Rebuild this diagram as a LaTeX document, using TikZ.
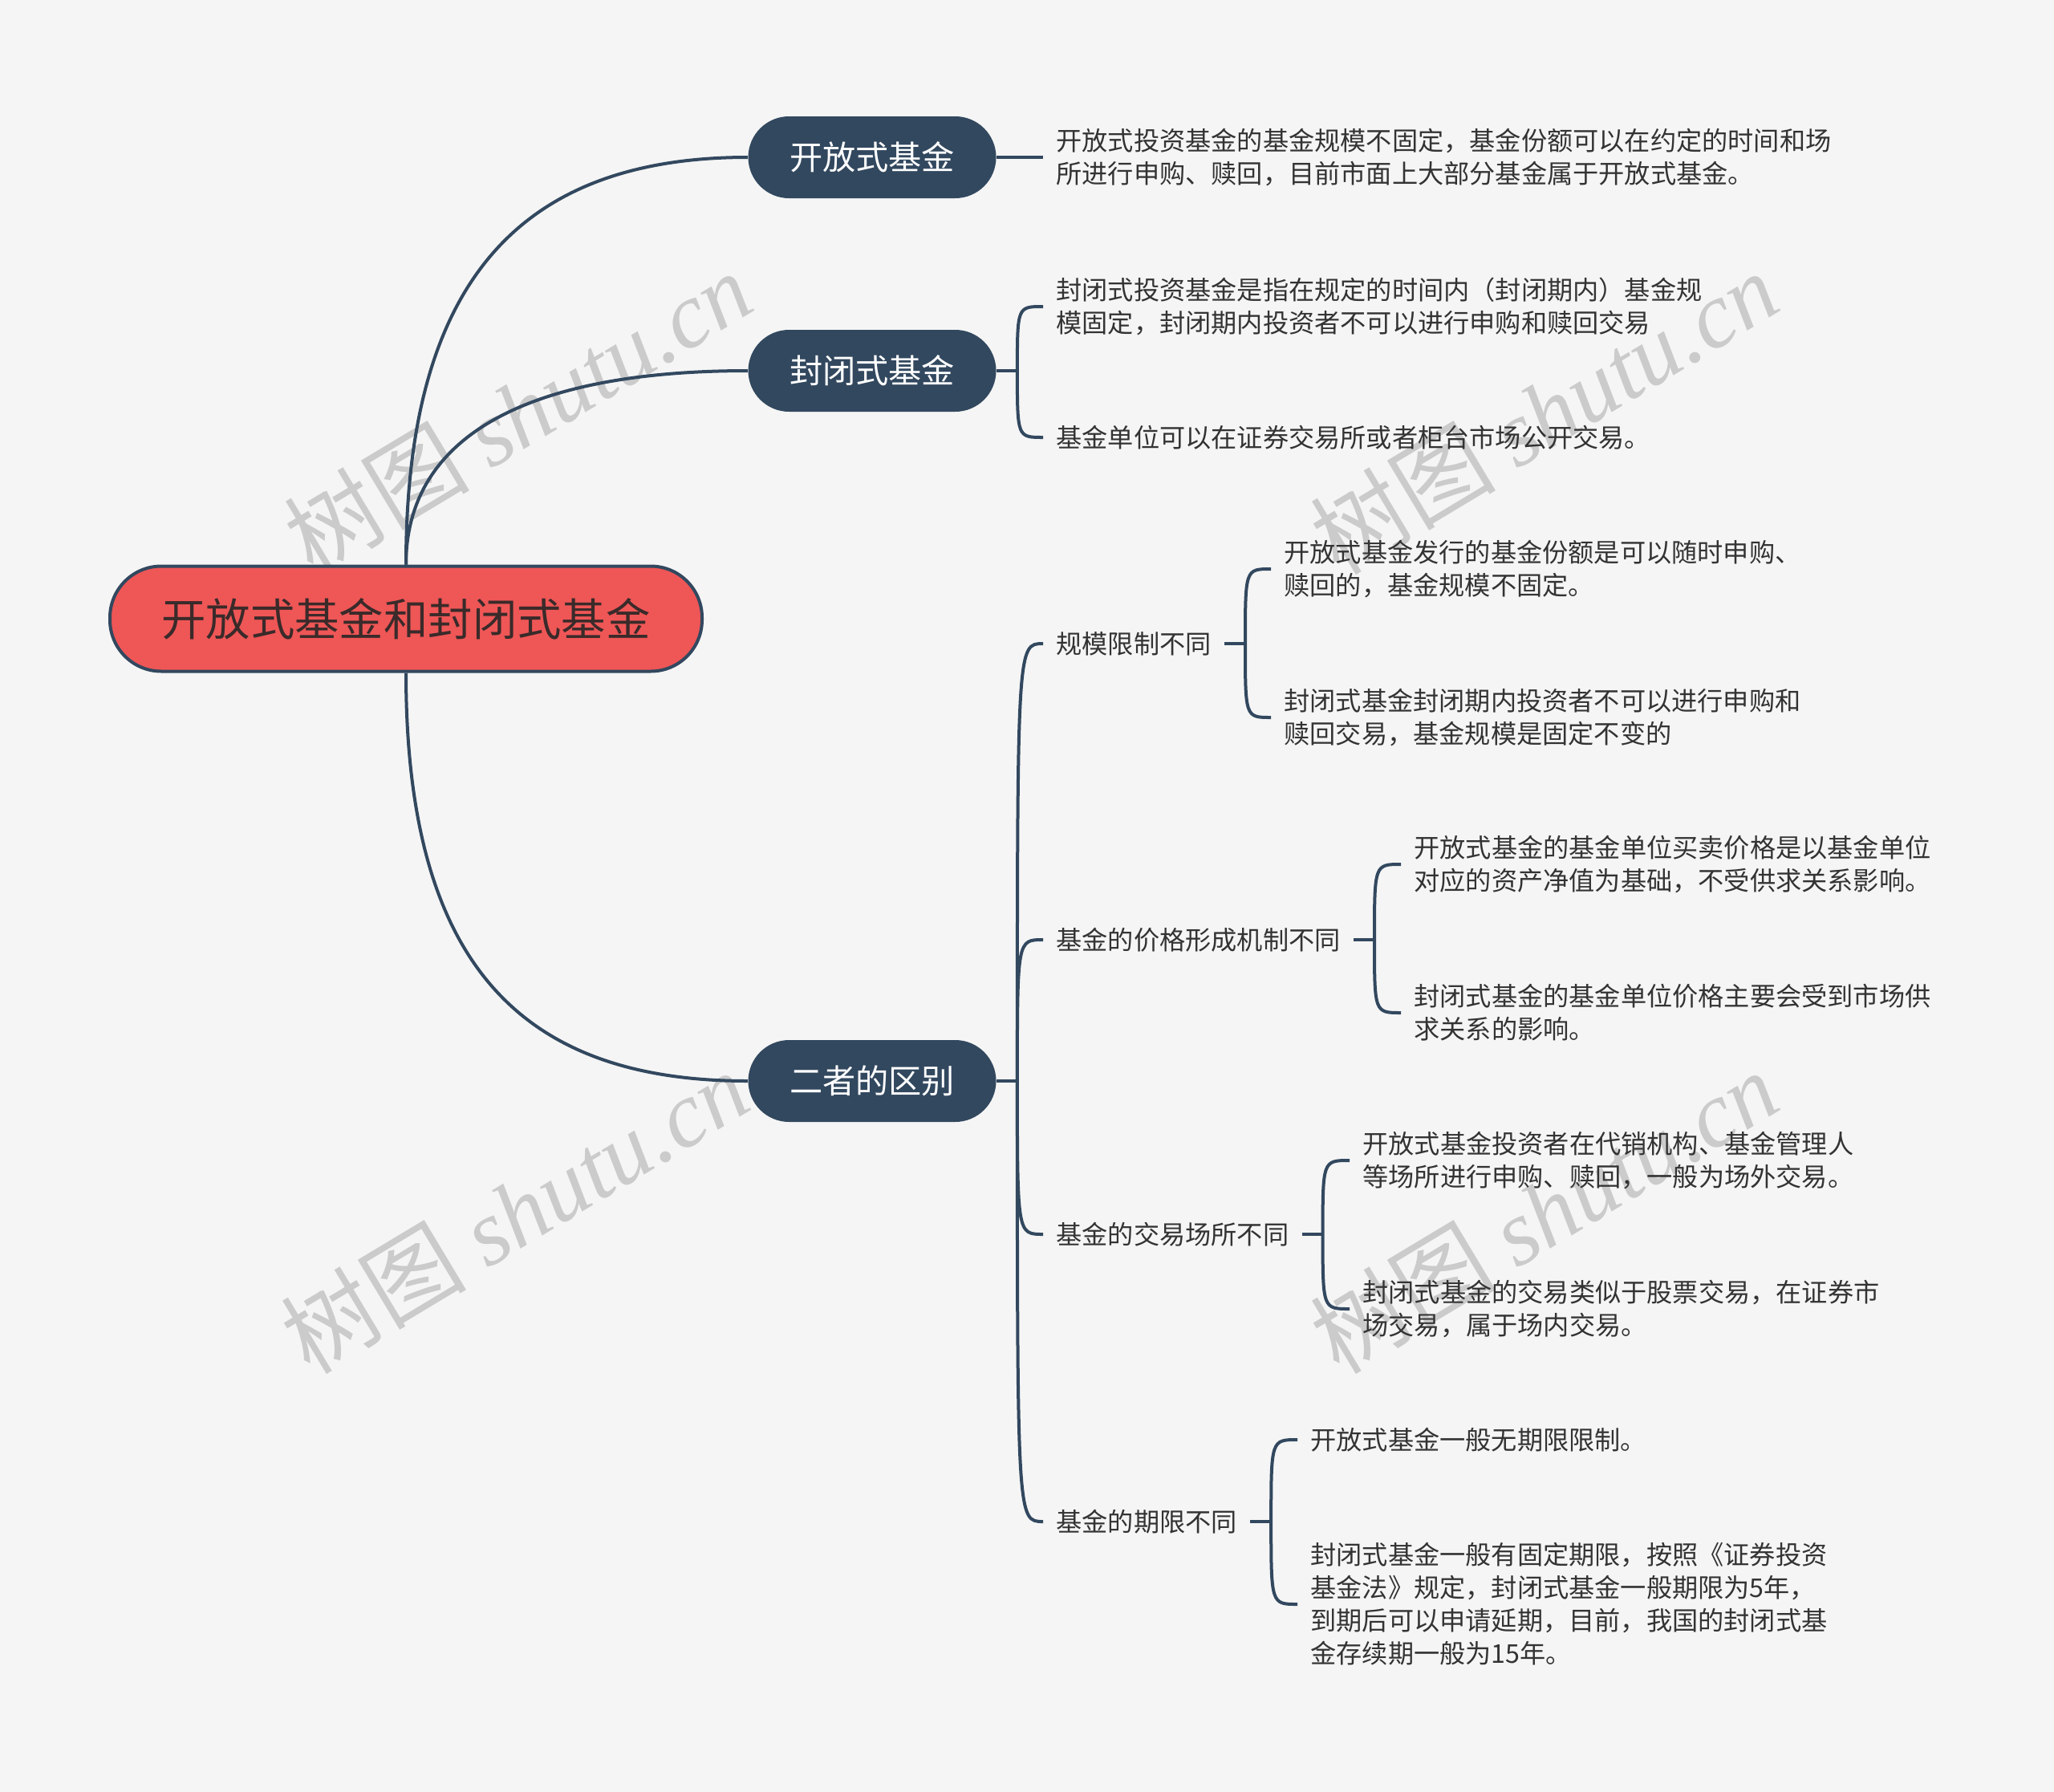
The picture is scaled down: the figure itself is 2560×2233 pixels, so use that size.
\documentclass[tikz,border=0pt]{standalone}
\usepackage{fontspec}
\setmainfont{Noto Sans CJK SC}
\newfontfamily\wmlatin{Liberation Serif}
\usetikzlibrary{calc}
\definecolor{bgc}{HTML}{F5F5F5}
\definecolor{navy}{HTML}{32485F}
\definecolor{rootred}{HTML}{EF5656}
\definecolor{txt}{HTML}{333333}
\definecolor{roottxt}{HTML}{3A2A2A}
\definecolor{wm}{HTML}{C4C4C4}
\tikzset{
  rootbox/.style={draw=navy, line width=2pt, fill=rootred, rounded corners=32pt,
    minimum width=369pt, minimum height=65.5pt, inner sep=0pt, text=roottxt,
    font=\fontsize{27.7}{30}\selectfont},
  topicbox/.style={fill=navy, rounded corners=25.5pt, minimum width=154.5pt,
    minimum height=51pt, inner sep=0pt, text=white, font=\fontsize{20.6}{24}\selectfont},
  leaf/.style={anchor=west, inner xsep=8pt, inner ysep=2pt, align=left, text=txt,
    font=\fontsize{16.1}{20.5}\selectfont},
  conn/.style={draw=navy, line width=2pt},
  wmark/.style={text=wm, opacity=0.85, rotate=31, font=\fontsize{58}{62}\selectfont, inner sep=0pt}
}
\begin{document}
\begin{tikzpicture}[x=0.5pt,y=-0.5pt]
\useasboundingbox[fill=bgc] (0,0) rectangle (2560,2233);

% watermarks
\node[wmark] (w1) at (645,514) {树图 {\wmlatin\itshape shutu.cn}};
\node[wmark] (w2) at (1924,514) {树图 {\wmlatin\itshape shutu.cn}};
\node[wmark] (w3) at (641,1510) {树图 {\wmlatin\itshape shutu.cn}};
\node[wmark] (w4) at (1924,1510) {树图 {\wmlatin\itshape shutu.cn}};

% root and main topics
\node[rootbox] (root) at (506,771) {开放式基金和封闭式基金};
\node[topicbox] (t1) at (1087,196) {开放式基金};
\node[topicbox] (t2) at (1087,462) {封闭式基金};
\node[topicbox] (t3) at (1087,1347) {二者的区别};

\draw[conn] (root.north) .. controls ($(root.north)+(0,-355)$) and ($(t1.west)+(-282,0)$) .. (t1.west);
\draw[conn] (root.north) .. controls ($(root.north)+(0,-150)$) and ($(t2.west)+(-292,0)$) .. (t2.west);
\draw[conn] (root.south) .. controls ($(root.south)+(0,364)$) and ($(t3.west)+(-282,0)$) .. (t3.west);

% topic 1
\node[leaf] (a1) at (1300,196) {开放式投资基金的基金规模不固定，基金份额可以在约定的时间和场\\所进行申购、赎回，目前市面上大部分基金属于开放式基金。};
\draw[conn] (t1.east) -- (a1.west);

% topic 2
\node[leaf] (b1) at (1300,382) {封闭式投资基金是指在规定的时间内（封闭期内）基金规\\模固定，封闭期内投资者不可以进行申购和赎回交易};
\node[leaf] (b2) at (1300,545) {基金单位可以在证券交易所或者柜台市场公开交易。};
\draw[conn] (t2.east) -- ++(26,0) coordinate (jb);
\foreach \c in {b1,b2}
  \draw[conn] (jb) .. controls (jb |- \c.west) and (jb |- \c.west) .. (\c.west);

% topic 3
\node[leaf] (c1) at (1300,802) {规模限制不同};
\node[leaf] (c2) at (1300,1171) {基金的价格形成机制不同};
\node[leaf] (c3) at (1300,1538) {基金的交易场所不同};
\node[leaf] (c4) at (1300,1896) {基金的期限不同};
\draw[conn] (t3.east) -- ++(26,0) coordinate (jc);
\foreach \c in {c1,c2,c3,c4}
  \draw[conn] (jc) .. controls (jc |- \c.west) and (jc |- \c.west) .. (\c.west);

% c1 children
\node[leaf] (d1) at (1584,709) {开放式基金发行的基金份额是可以随时申购、\\赎回的，基金规模不固定。};
\node[leaf] (d2) at (1584,894) {封闭式基金封闭期内投资者不可以进行申购和\\赎回交易，基金规模是固定不变的};
\draw[conn] (c1.east) -- ++(26,0) coordinate (jd);
\foreach \c in {d1,d2}
  \draw[conn] (jd) .. controls (jd |- \c.west) and (jd |- \c.west) .. (\c.west);

% c2 children
\node[leaf] (e1) at (1746,1077) {开放式基金的基金单位买卖价格是以基金单位\\对应的资产净值为基础，不受供求关系影响。};
\node[leaf] (e2) at (1746,1262) {封闭式基金的基金单位价格主要会受到市场供\\求关系的影响。};
\draw[conn] (c2.east) -- ++(26,0) coordinate (je);
\foreach \c in {e1,e2}
  \draw[conn] (je) .. controls (je |- \c.west) and (je |- \c.west) .. (\c.west);

% c3 children
\node[leaf] (f1) at (1682,1446) {开放式基金投资者在代销机构、基金管理人\\等场所进行申购、赎回，一般为场外交易。};
\node[leaf] (f2) at (1682,1631) {封闭式基金的交易类似于股票交易，在证券市\\场交易，属于场内交易。};
\draw[conn] (c3.east) -- ++(26,0) coordinate (jf);
\foreach \c in {f1,f2}
  \draw[conn] (jf) .. controls (jf |- \c.west) and (jf |- \c.west) .. (\c.west);

% c4 children
\node[leaf] (g1) at (1617,1794) {开放式基金一般无期限限制。};
\node[leaf] (g2) at (1617,1999) {封闭式基金一般有固定期限，按照《证券投资\\基金法》规定，封闭式基金一般期限为5年，\\到期后可以申请延期，目前，我国的封闭式基\\金存续期一般为15年。};
\draw[conn] (c4.east) -- ++(26,0) coordinate (jg);
\foreach \c in {g1,g2}
  \draw[conn] (jg) .. controls (jg |- \c.west) and (jg |- \c.west) .. (\c.west);
\end{tikzpicture}
\end{document}
